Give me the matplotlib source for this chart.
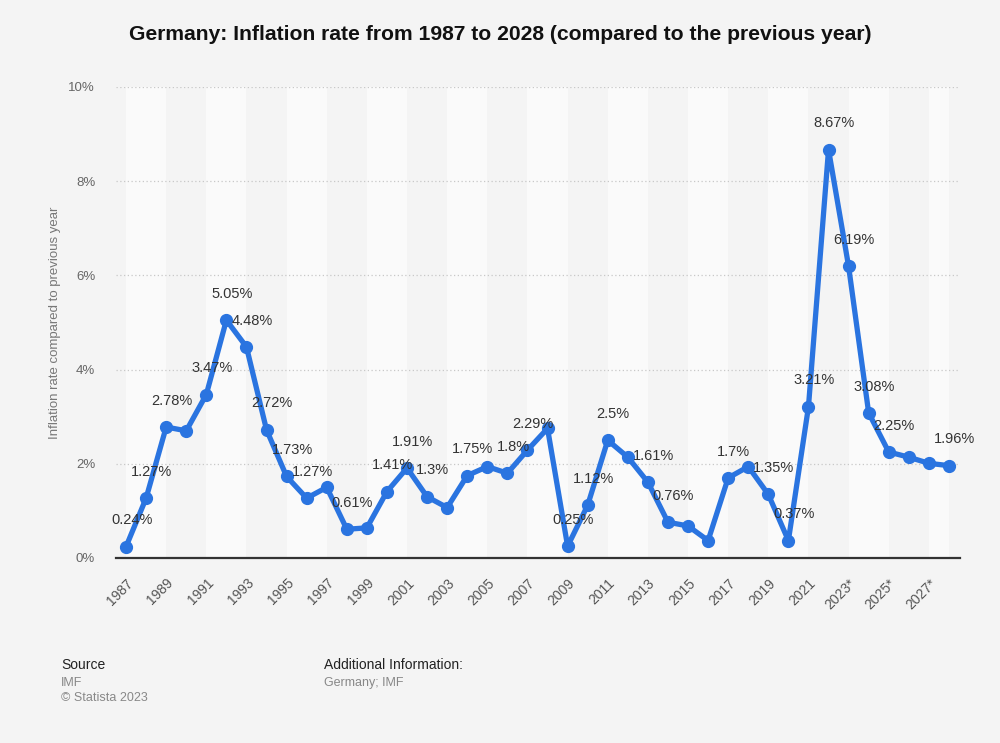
import matplotlib.pyplot as plt
import numpy as np

plt.rcParams['font.family'] = ['Liberation Sans', 'DejaVu Sans']

# data
years = list(range(1987, 2029))
inflation = [0.24, 1.27, 2.78, 2.70, 3.47, 5.05, 4.48, 2.72, 1.73, 1.27,
             1.50, 0.61, 0.64, 1.41, 1.91, 1.30, 1.07, 1.75, 1.94, 1.80,
             2.29, 2.75, 0.25, 1.12, 2.50, 2.14, 1.61, 0.76, 0.68, 0.37,
             1.70, 1.94, 1.35, 0.37, 3.21, 8.67, 6.19, 3.08, 2.25, 2.14,
             2.01, 1.96]
# which points carry a value label in the original
labelled = [1987, 1988, 1989, 1991, 1992, 1993, 1994, 1995, 1996, 1998,
            2000, 2001, 2002, 2004, 2006, 2007, 2009, 2010, 2011, 2013,
            2014, 2017, 2019, 2020, 2021, 2022, 2023, 2024, 2025, 2028]
tick_years = list(range(1987, 2029, 2))
tick_labels = [str(y) if y < 2023 else str(y) + '*' for y in tick_years]

bg = '#f4f4f4'
fig = plt.figure(figsize=(10, 7.43), dpi=100, facecolor=bg)
ax = fig.add_axes([0.116, 0.249, 0.844, 0.634])
ax.set_facecolor(bg)

# alternating light bands, two years wide
for start in range(1987, 2029, 4):
    ax.axvspan(start, min(start + 2, 2028), color='#fafafa', lw=0, zorder=0)

for v in [2, 4, 6, 8, 10]:
    ax.axhline(v, color='#c8c8c8', lw=0.9, ls=(0, (1, 2)), zorder=1)

ax.plot(years, inflation, color='#2a74e0', lw=3.8, marker='o', ms=8.5,
        solid_joinstyle='round', zorder=3, clip_on=False)

for y, v in zip(years, inflation):
    if y in labelled:
        txt = ('%.2f' % v).rstrip('0').rstrip('.') + '%'
        ax.annotate(txt, (y, v), xytext=(4, 19), textcoords='offset points',
                    ha='center', va='center', fontsize=10.5, color='#333333',
                    zorder=4)

ax.set_xlim(1986.5, 2028.55)
ax.set_ylim(0, 10)
ax.set_yticks([0, 2, 4, 6, 8, 10])
ax.set_yticklabels(['0%', '2%', '4%', '6%', '8%', '10%'])
ax.set_xticks(tick_years)
ax.set_xticklabels(tick_labels, rotation=45, ha='right', rotation_mode='anchor')
ax.tick_params(axis='both', length=0, labelsize=9.5, colors='#666666')
ax.tick_params(axis='x', pad=13, labelsize=10, colors='#555555')
ax.tick_params(axis='y', pad=15)

for s in ['top', 'right', 'left']:
    ax.spines[s].set_visible(False)
ax.spines['bottom'].set_color('#333333')
ax.spines['bottom'].set_linewidth(1.6)

ax.set_ylabel('Inflation rate compared to previous year', fontsize=9.5,
              color='#777777', labelpad=5)

fig.text(0.5, 0.953, 'Germany: Inflation rate from 1987 to 2028 (compared to the previous year)',
         ha='center', va='center', fontsize=15.2, fontweight='bold', color='#111111')

fig.text(0.061, 0.105, 'Source', fontsize=10, color='#222222', va='center')
fig.text(0.061, 0.081, 'IMF', fontsize=9, color='#888888', va='center')
fig.text(0.061, 0.060, '\u00a9 Statista 2023', fontsize=9, color='#888888', va='center')
fig.text(0.324, 0.105, 'Additional Information:', fontsize=10, color='#222222', va='center')
fig.text(0.324, 0.081, 'Germany; IMF', fontsize=9, color='#888888', va='center')

fig.savefig('out.png', dpi=100, facecolor=bg)
